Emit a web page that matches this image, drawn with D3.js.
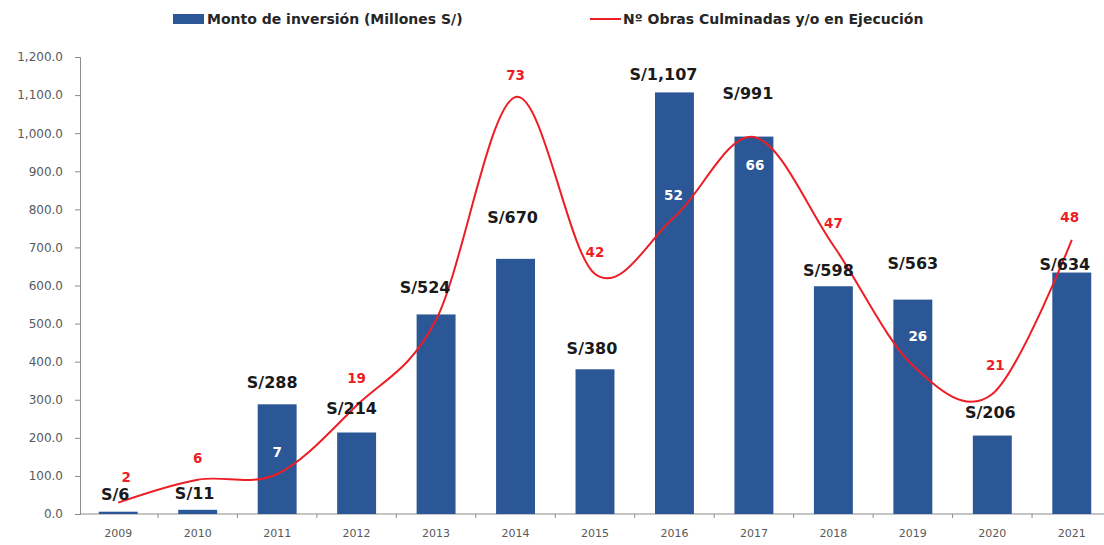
<!DOCTYPE html>
<html>
<head>
<meta charset="utf-8">
<script src="https://cdn.jsdelivr.net/npm/d3@7"></script>
<style>
  html, body { margin: 0; padding: 0; background: #ffffff; }
  svg { display: block; }
</style>
</head>
<body>
<svg id="chart" width="1104" height="545"></svg>
<script>
// ---- data ----
const years = ["2009","2010","2011","2012","2013","2014","2015","2016","2017","2018","2019","2020","2021"];
const inversion = [6, 11, 288, 214, 524, 670, 380, 1107, 991, 598, 563, 206, 634];
const inversionLabels = ["S/6","S/11","S/288","S/214","S/524","S/670","S/380","S/1,107","S/991","S/598","S/563","S/206","S/634"];
const obras = [2, 6, 7, 19, 34, 73, 42, 52, 66, 47, 26, 21, 48];
const obrasLabels = ["2","6","7","19",null,"73","42","52","66","47","26","21","48"];
const yTickValues = [0,100,200,300,400,500,600,700,800,900,1000,1100,1200];
const seriesNames = ["Monto de inversión (Millones S/)", "Nº Obras Culminadas y/o en Ejecución"];

// ---- layout (label nudges, px) ----
const barLabelNudge = [[-3,17],[-3,17],[-5,22],[-5,24],[-11,27],[-3,42],[-3,21],[-11,18],[-6,43],[-5,16],[0,36],[-2,23],[-7,8]];
const lineLabelNudge = [[8,-25],[0,-22],[0,-22],[0,-27],[0,-22],[0,-22],[0,-22],[-1,-22],[1,28],[0,-22],[5,-29],[3,-29],[-2,-23]];

const svg = d3.select("#chart");
const margin = { left: 78.5, right: -7.5, top: 57, bottom: 31 };
const W = 1104, H = 545;

const x = d3.scaleBand().domain(years).range([margin.left, W - margin.right]).padding(0);
const y = d3.scaleLinear().domain([0, 1200]).range([H - margin.bottom, margin.top]);
const y2 = d3.scaleLinear().domain([0, 80]).range([H - margin.bottom, margin.top]);

const barW = x.bandwidth() * 0.49;
const barColor = "#2c5796";
const lineColor = "#ee1d25";
const axisColor = "#8c8c8c";
const textGray = "#595959";
const cx = i => x(years[i]) + x.bandwidth() / 2;

// y axis
const yAxis = svg.append("g")
  .attr("transform", `translate(80,0)`)
  .call(d3.axisLeft(y).tickValues(yTickValues).tickSize(5).tickPadding(12).tickFormat(d3.format(",.1f")));
yAxis.select(".domain").attr("stroke", axisColor);
yAxis.selectAll(".tick line").attr("stroke", axisColor);
yAxis.selectAll(".tick text").attr("fill", textGray).style("font-family", "DejaVu Sans").style("font-size", "12px");

// x axis
const xAxisG = svg.append("g").attr("transform", `translate(0,${y(0)})`);
xAxisG.append("line").attr("x1", 80).attr("x2", W).attr("y1", 0).attr("y2", 0).attr("stroke", axisColor);
xAxisG.selectAll("line.tk").data(years.slice(1)).enter().append("line")
  .attr("class", "tk")
  .attr("x1", d => x(d)).attr("x2", d => x(d)).attr("y1", 0).attr("y2", 4)
  .attr("stroke", axisColor);
xAxisG.selectAll("text").data(years).enter().append("text")
  .attr("x", d => x(d) + x.bandwidth() / 2)
  .attr("y", 23)
  .attr("text-anchor", "middle")
  .attr("fill", textGray)
  .style("font-family", "DejaVu Sans").style("font-size", "11px")
  .text(d => d);

// bars
svg.append("g").selectAll("rect").data(inversion).enter().append("rect")
  .attr("x", (d, i) => cx(i) - barW / 2)
  .attr("width", barW)
  .attr("y", d => y(d))
  .attr("height", d => y(0) - y(d))
  .attr("fill", barColor);

// line
const line = d3.line()
  .x((d, i) => cx(i))
  .y(d => y2(d))
  .curve(d3.curveCardinal.tension(0));
svg.append("path").datum(obras)
  .attr("d", line)
  .attr("fill", "none")
  .attr("stroke", lineColor)
  .attr("stroke-width", 2);

// bar labels
svg.append("g").selectAll("text").data(inversion).enter().append("text")
  .attr("x", (d, i) => cx(i) + barLabelNudge[i][0])
  .attr("y", (d, i) => y(d) - barLabelNudge[i][1])
  .attr("dy", "0.36em")
  .attr("text-anchor", "middle")
  .attr("fill", "#1a1a1a")
  .style("font-family", "DejaVu Sans").style("font-weight", "bold").style("font-size", "16px")
  .text((d, i) => inversionLabels[i]);

// line labels
const ll = svg.append("g");
obras.forEach((v, i) => {
  if (obrasLabels[i] === null) return;
  const lx = cx(i) + lineLabelNudge[i][0];
  const ly = y2(v) + lineLabelNudge[i][1];
  const inside = y(inversion[i]) < ly - 8;
  ll.append("text")
    .attr("x", lx).attr("y", ly).attr("dy", "0.36em")
    .attr("text-anchor", "middle")
    .attr("fill", inside ? "#ffffff" : lineColor)
    .style("font-family", "DejaVu Sans").style("font-weight", "bold").style("font-size", "13.5px")
    .text(obrasLabels[i]);
});

// legend
const lg = svg.append("g").attr("transform", "translate(0,19)");
lg.append("rect").attr("x", 173).attr("y", -5).attr("width", 31).attr("height", 10).attr("fill", barColor);
lg.append("text").attr("x", 207).attr("y", 0).attr("dy", "0.36em")
  .attr("fill", "#262626")
  .style("font-family", "DejaVu Sans").style("font-weight", "bold").style("font-size", "14px")
  .text(seriesNames[0]);
lg.append("line").attr("x1", 590).attr("x2", 621).attr("y1", 0).attr("y2", 0)
  .attr("stroke", lineColor).attr("stroke-width", 2);
lg.append("text").attr("x", 623).attr("y", 0).attr("dy", "0.36em")
  .attr("fill", "#262626")
  .style("font-family", "DejaVu Sans").style("font-weight", "bold").style("font-size", "14px")
  .text(seriesNames[1]);
</script>
</body>
</html>
